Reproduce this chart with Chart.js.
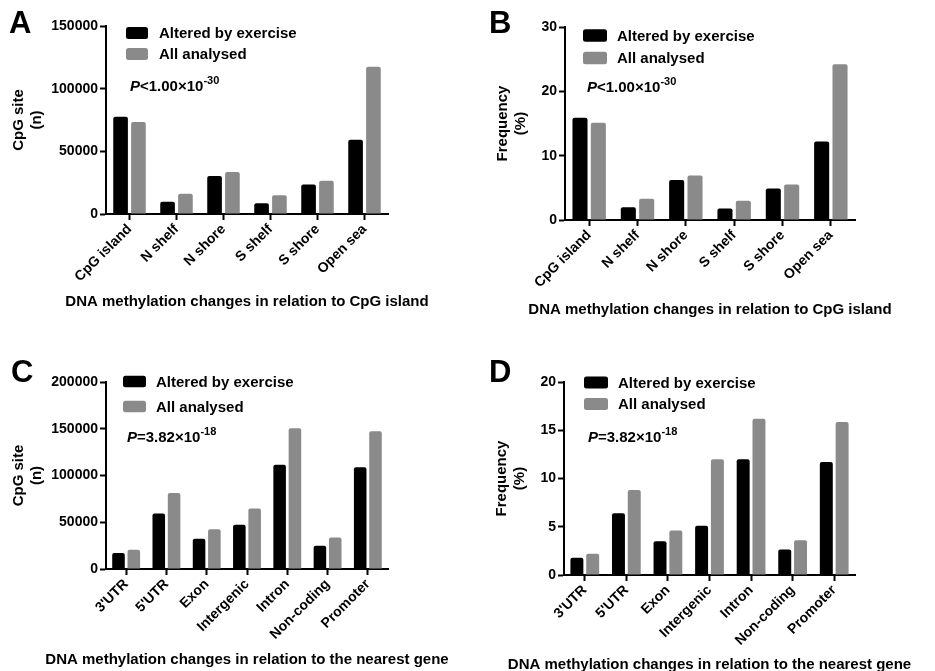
<!DOCTYPE html>
<html>
<head>
<meta charset="utf-8">
<script src="https://cdn.jsdelivr.net/npm/chart.js@4/dist/chart.umd.min.js"></script>
<style>
  html, body { margin: 0; padding: 0; background: #fff; width: 935px; height: 671px; overflow: hidden; }
  .panel { position: absolute; }
  canvas { display: block; }
</style>
</head>
<body>
<div class="panel" style="left:0;top:0"><canvas id="chartA" width="467" height="330"></canvas></div>
<div class="panel" style="left:467px;top:0"><canvas id="chartB" width="468" height="330"></canvas></div>
<div class="panel" style="left:0;top:330px"><canvas id="chartC" width="467" height="350"></canvas></div>
<div class="panel" style="left:467px;top:330px"><canvas id="chartD" width="468" height="350"></canvas></div>
<script>
// ---- data -------------------------------------------------------------
const islandCategories = ['CpG island', 'N shelf', 'N shore', 'S shelf', 'S shore', 'Open sea'];
const islandAlteredSites = [77500, 9800, 30300, 8500, 23600, 59300];
const islandAllSites = [73500, 16200, 33500, 14900, 26600, 117500];
const islandAlteredFreq = [15.9, 2.0, 6.2, 1.8, 4.9, 12.2];
const islandAllFreq = [15.1, 3.3, 6.9, 3.0, 5.5, 24.2];

const geneCategories = ["3'UTR", "5'UTR", 'Exon', 'Intergenic', 'Intron', 'Non-coding', 'Promoter'];
const geneAlteredSites = [17000, 59300, 32300, 47200, 111500, 24800, 108700];
const geneAllSites = [20600, 81300, 42600, 64600, 150600, 33700, 147400];
const geneAlteredFreq = [1.8, 6.4, 3.5, 5.1, 12.0, 2.65, 11.7];
const geneAllFreq = [2.2, 8.8, 4.6, 12.0, 16.2, 3.6, 15.85];

const ticksIslandSites = [0, 50000, 100000, 150000];
const ticksIslandFreq = [0, 10, 20, 30];
const ticksGeneSites = [0, 50000, 100000, 150000, 200000];
const ticksGeneFreq = [0, 5, 10, 15, 20];

const seriesNames = ['Altered by exercise', 'All analysed'];
const seriesColors = ['#000000', '#8a8a8a'];

// ---- styling ----------------------------------------------------------
const FAMILY = '"Liberation Sans", Arial, Helvetica, sans-serif';

function roundRect(ctx, x, y, w, h, r) {
  ctx.beginPath();
  ctx.moveTo(x + r, y);
  ctx.lineTo(x + w - r, y);
  ctx.quadraticCurveTo(x + w, y, x + w, y + r);
  ctx.lineTo(x + w, y + h - r);
  ctx.quadraticCurveTo(x + w, y + h, x + w - r, y + h);
  ctx.lineTo(x + r, y + h);
  ctx.quadraticCurveTo(x, y + h, x, y + h - r);
  ctx.lineTo(x, y + r);
  ctx.quadraticCurveTo(x, y, x + r, y);
  ctx.closePath();
}

// Panel letter, in-plot legend, P value annotation and the x-axis caption
// (the caption is wider than the plot, so it is drawn here unclipped)
const panelDecor = {
  id: 'panelDecor',
  afterDraw(chart, args, o) {
    const ctx = chart.ctx;
    const area = chart.chartArea;
    ctx.save();
    ctx.fillStyle = '#000';
    ctx.textAlign = 'left';
    ctx.textBaseline = 'alphabetic';
    ctx.font = 'bold 31px ' + FAMILY;
    ctx.fillText(o.letter, o.letterX, o.letterY);

    const lg = o.legend;
    chart.data.datasets.forEach((ds, i) => {
      const cy = lg.y + i * lg.gap;
      ctx.fillStyle = ds.backgroundColor;
      roundRect(ctx, lg.x, cy - lg.h / 2, lg.w, lg.h, 2.5);
      ctx.fill();
      ctx.fillStyle = '#000';
      ctx.font = 'bold 15px ' + FAMILY;
      ctx.textBaseline = 'middle';
      ctx.fillText(ds.label, lg.textX, cy + 1);
    });

    ctx.textBaseline = 'alphabetic';
    let x = o.pX;
    ctx.font = 'italic bold 15px ' + FAMILY;
    ctx.fillText('P', x, o.pY);
    x += ctx.measureText('P').width;
    ctx.font = 'bold 15px ' + FAMILY;
    ctx.fillText(o.pText, x, o.pY);
    x += ctx.measureText(o.pText).width;
    ctx.font = 'bold 11px ' + FAMILY;
    ctx.fillText(o.pExp, x, o.pY - 7);

    ctx.font = 'bold 15px ' + FAMILY;
    ctx.textAlign = 'center';
    ctx.textBaseline = 'middle';
    ctx.fillText(o.xTitle, (area.left + area.right) / 2, o.xTitleY);
    ctx.restore();
  }
};

function makeChart(id, cfg) {
  const canvas = document.getElementById(id);
  const W = canvas.width, H = canvas.height;
  const area = cfg.area; // plot box inside the canvas
  return new Chart(canvas, {
    type: 'bar',
    data: {
      labels: cfg.labels,
      datasets: cfg.series.map((vals, i) => ({
        label: seriesNames[i],
        data: vals,
        backgroundColor: seriesColors[i],
        borderWidth: 0,
        borderRadius: 2,
        categoryPercentage: 0.76,
        barPercentage: 0.82
      }))
    },
    options: {
      responsive: false,
      animation: false,
      layout: {
        autoPadding: false,
        padding: { left: 0, top: area.top, right: W - area.right, bottom: 0 }
      },
      plugins: {
        legend: { display: false },
        tooltip: { enabled: false },
        panelDecor: Object.assign({ xTitle: cfg.xTitle }, cfg.decor)
      },
      scales: {
        x: {
          offset: true,
          grid: {
            display: true, offset: false, drawOnChartArea: false,
            drawTicks: true, tickLength: 6, tickWidth: 2, tickColor: '#000'
          },
          border: { display: true, color: '#000', width: 2 },
          ticks: {
            color: '#000', padding: 1, autoSkip: false,
            maxRotation: 45, minRotation: 45,
            font: { family: FAMILY, size: 14, weight: 'bold' }
          },
          title: { display: false },
          afterFit(scale) { scale.height = H - area.bottom; }
        },
        y: {
          min: cfg.yTicks[0],
          max: cfg.yTicks[cfg.yTicks.length - 1],
          grid: {
            display: true, drawOnChartArea: false,
            drawTicks: true, tickLength: 6, tickWidth: 2, tickColor: '#000'
          },
          border: { display: true, color: '#000', width: 2 },
          afterBuildTicks(scale) { scale.ticks = cfg.yTicks.map(v => ({ value: v })); },
          ticks: {
            color: '#000', padding: 2,
            font: { family: FAMILY, size: 14, weight: 'bold' },
            callback: v => String(v)
          },
          title: {
            display: true, text: cfg.yTitle, color: '#000',
            font: { family: FAMILY, size: 15, weight: 'bold', lineHeight: 1.2 },
            padding: { top: cfg.yTitlePad, bottom: 0 }
          },
          afterFit(scale) { scale.width = area.left; }
        }
      }
    },
    plugins: [panelDecor]
  });
}

const xTitleIsland = 'DNA methylation changes in relation to CpG island';
const xTitleGene = 'DNA methylation changes in relation to the nearest gene';

makeChart('chartA', {
  labels: islandCategories,
  series: [islandAlteredSites, islandAllSites],
  yTicks: ticksIslandSites,
  yTitle: ['CpG site', '(n)'],
  xTitle: xTitleIsland,
  area: { left: 106, top: 26, right: 388, bottom: 214 },
  yTitlePad: 10,
  decor: {
    letter: 'A', letterX: 9, letterY: 33, xTitleY: 302,
    legend: { x: 126, y: 33, gap: 21, w: 22, h: 12, textX: 159 },
    pX: 130, pY: 91, pText: '<1.00\u00d710', pExp: '-30'
  }
});

makeChart('chartB', {
  labels: islandCategories,
  series: [islandAlteredFreq, islandAllFreq],
  yTicks: ticksIslandFreq,
  yTitle: ['Frequency', '(%)'],
  xTitle: xTitleIsland,
  area: { left: 98, top: 27, right: 388, bottom: 220 },
  yTitlePad: 27,
  decor: {
    letter: 'B', letterX: 22, letterY: 33, xTitleY: 310,
    legend: { x: 116, y: 35.5, gap: 22.5, w: 24, h: 12.5, textX: 150 },
    pX: 120, pY: 92, pText: '<1.00\u00d710', pExp: '-30'
  }
});

makeChart('chartC', {
  labels: geneCategories,
  series: [geneAlteredSites, geneAllSites],
  yTicks: ticksGeneSites,
  yTitle: ['CpG site', '(n)'],
  xTitle: xTitleGene,
  area: { left: 106, top: 52, right: 388, bottom: 239 },
  yTitlePad: 10,
  decor: {
    letter: 'C', letterX: 11, letterY: 52, xTitleY: 330,
    legend: { x: 123, y: 51.5, gap: 25, w: 23, h: 11.5, textX: 156 },
    pX: 127, pY: 112, pText: '=3.82\u00d710', pExp: '-18'
  }
});

makeChart('chartD', {
  labels: geneCategories,
  series: [geneAlteredFreq, geneAllFreq],
  yTicks: ticksGeneFreq,
  yTitle: ['Frequency', '(%)'],
  xTitle: xTitleGene,
  area: { left: 97, top: 52, right: 388, bottom: 245 },
  yTitlePad: 26,
  decor: {
    letter: 'D', letterX: 22, letterY: 52, xTitleY: 335,
    legend: { x: 117, y: 52.5, gap: 21.5, w: 24, h: 12, textX: 151 },
    pX: 121, pY: 112, pText: '=3.82\u00d710', pExp: '-18'
  }
});
</script>
</body>
</html>
